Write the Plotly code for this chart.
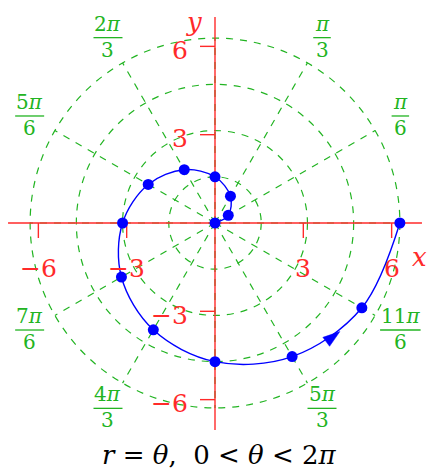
import numpy as np
import plotly.graph_objects as go

# ---- data ----
theta_deg = [0, 30, 60, 90, 120, 150, 180, 210, 240, 270, 300, 330, 360]
r_vals = [0.0, 0.52, 1.05, 1.57, 2.09, 2.62, 3.14, 3.67, 4.19, 4.71, 5.24, 5.76, 6.28]
grid_radii = [1.57, 3.14, 4.71, 6.28]
spoke_deg = [0, 30, 60, 90, 120, 150, 180, 210, 240, 270, 300, 330]
tick_vals = [-6, -3, 3, 6]
tick_text = ["\u22126", "\u22123", "3", "6"]
label_deg = [30, 60, 120, 150, 210, 240, 300, 330]
label_num = ["\u03c0", "\u03c0", "2\u03c0", "5\u03c0", "7\u03c0", "4\u03c0", "5\u03c0", "11\u03c0"]
label_den = ["6", "3", "3", "6", "6", "3", "3", "6"]
arrow_theta_deg = 319
arrow_r = 5.62
arrow_dir_deg = 37

GREEN = "#22b422"
RED = "#ff2a2a"
BLUE = "#0000ff"
FONT = "DejaVu Serif"

th = np.radians(theta_deg)
xs = np.array(r_vals) * np.cos(th)
ys = np.array(r_vals) * np.sin(th)

fig = go.Figure()
shapes = []
annotations = []

# grid circles
for R in grid_radii:
    shapes.append(dict(type="circle", xref="x", yref="y", x0=-R, y0=-R, x1=R, y1=R,
                       line=dict(color=GREEN, width=1.2, dash="7px,7px"), layer="below"))
# spokes
Rmax = max(grid_radii)
for a in spoke_deg:
    ar = np.radians(a)
    shapes.append(dict(type="line", xref="x", yref="y", x0=0, y0=0,
                       x1=Rmax * np.cos(ar), y1=Rmax * np.sin(ar),
                       line=dict(color=GREEN, width=1.2, dash="7px,7px"), layer="below"))

# axes
shapes.append(dict(type="line", xref="x", yref="y", x0=-7.03, y0=0, x1=7.03, y1=0,
                   line=dict(color=RED, width=1.4), layer="below"))
shapes.append(dict(type="line", xref="x", yref="y", x0=0, y0=-7.03, x1=0, y1=7.0,
                   line=dict(color=RED, width=1.4), layer="below"))
tick_len = 0.51
for v, t in zip(tick_vals, tick_text):
    shapes.append(dict(type="line", xref="x", yref="y", x0=v, y0=0, x1=v, y1=-tick_len,
                       line=dict(color=RED, width=1.4), layer="below"))
    shapes.append(dict(type="line", xref="x", yref="y", x0=0, y0=v, x1=-tick_len, y1=v,
                       line=dict(color=RED, width=1.4), layer="below"))
    annotations.append(dict(x=v, y=-1.545, xref="x", yref="y", text=t, showarrow=False,
                            xanchor="center", yanchor="middle",
                            font=dict(family=FONT, size=25, color=RED)))
    annotations.append(dict(x=-0.85, y=v, xref="x", yref="y", text=t, showarrow=False,
                            xanchor="right", yanchor="middle", yshift=-4,
                            font=dict(family=FONT, size=25, color=RED)))

annotations.append(dict(x=6.96, y=-1.145, xref="x", yref="y", text="<i>x</i>", showarrow=False,
                        xanchor="center", yanchor="middle",
                        font=dict(family=FONT, size=26, color=RED)))
annotations.append(dict(x=-0.70, y=6.83, xref="x", yref="y", text="<i>y</i>", showarrow=False,
                        xanchor="center", yanchor="middle",
                        font=dict(family=FONT, size=26, color=RED)))


def italic_pi(s):
    return s.replace("\u03c0", "<i>\u03c0</i>")


# spoke labels (fractions)
r_lab = 7.27
for a, n, d in zip(label_deg, label_num, label_den):
    ar = np.radians(a)
    cx, cy = r_lab * np.cos(ar), r_lab * np.sin(ar)
    annotations.append(dict(x=cx, y=cy, xref="x", yref="y", text=italic_pi(n), showarrow=False,
                            xanchor="center", yanchor="bottom", yshift=0,
                            font=dict(family=FONT, size=20, color=GREEN)))
    annotations.append(dict(x=cx, y=cy, xref="x", yref="y", text=d, showarrow=False,
                            xanchor="center", yanchor="top", yshift=2,
                            font=dict(family=FONT, size=20, color=GREEN)))
    w = 6 + 11.5 * len(n)
    shapes.append(dict(type="line", xref="x", yref="y", xsizemode="pixel", ysizemode="pixel",
                       xanchor=cx, yanchor=cy, x0=-w / 2, x1=w / 2, y0=0, y1=0,
                       line=dict(color=GREEN, width=1.3)))

# title
annotations.append(dict(x=0.16, y=(223 - 471) / 29.44, xref="x", yref="y",
                        text="<i>r</i> = <i>\u03b8</i>,&nbsp; 0 &lt; <i>\u03b8</i> &lt; 2<i>\u03c0</i>",
                        showarrow=False, xanchor="center", yanchor="bottom", borderpad=0,
                        font=dict(family=FONT, size=26, color="black")))

# spiral curve through the dots
fig.add_trace(go.Scatter(x=xs, y=ys, mode="lines", line=dict(color=BLUE, width=1.4, shape="spline", smoothing=1.0),
                         hoverinfo="skip", showlegend=False))
fig.add_trace(go.Scatter(x=xs, y=ys, mode="markers", marker=dict(color=BLUE, size=11),
                         hoverinfo="skip", showlegend=False))

# arrow head
at = np.radians(arrow_theta_deg)
tipx, tipy = arrow_r * np.cos(at), arrow_r * np.sin(at)
ad = np.radians(arrow_dir_deg)
L, Wh = 0.58, 0.19
bx, by = tipx - L * np.cos(ad), tipy - L * np.sin(ad)
px_, py_ = -np.sin(ad), np.cos(ad)
fig.add_trace(go.Scatter(x=[tipx, bx + Wh * px_, bx - Wh * px_, tipx],
                         y=[tipy, by + Wh * py_, by - Wh * py_, tipy],
                         mode="lines", fill="toself", fillcolor=BLUE, line=dict(color=BLUE, width=0.5),
                         hoverinfo="skip", showlegend=False))

s = 29.44
fig.update_layout(
    width=427, height=471, margin=dict(l=0, r=0, t=0, b=0),
    paper_bgcolor="white", plot_bgcolor="white",
    xaxis=dict(range=[-215 / s, (427 - 215) / s], visible=False, fixedrange=True),
    yaxis=dict(range=[(223 - 471) / s, 223 / s], visible=False, fixedrange=True),
    shapes=shapes, annotations=annotations, showlegend=False,
)
fig.write_html("out.html", config={"displayModeBar": False},
               post_script="document.body.style.margin='0';document.body.style.overflow='hidden';")
